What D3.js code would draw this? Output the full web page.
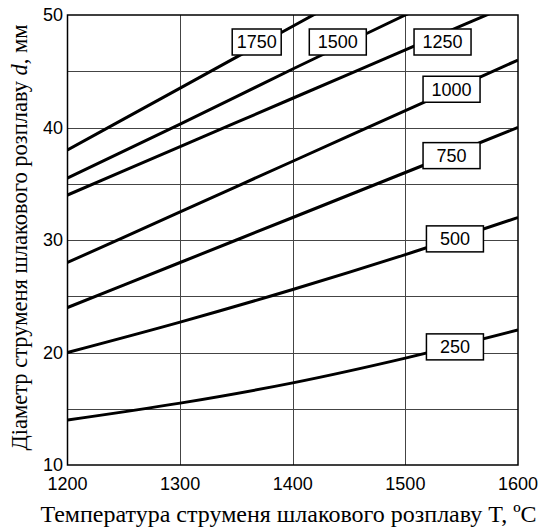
<!DOCTYPE html>
<html>
<head>
<meta charset="utf-8">
<script src="https://cdn.jsdelivr.net/npm/d3@7"></script>
<style>
  html, body { margin: 0; padding: 0; background: #fff; }
  svg { display: block; }
</style>
</head>
<body>
<svg id="chart" width="538" height="527"></svg>
<script>
// Temperatures at which each curve is sampled, °C
const temps = [1200, 1300, 1400, 1500, 1600];

// Slag jet diameter d, mm, for each flow curve (values above 50 run off the top edge)
const d250  = [14.0, 15.5, 17.3, 19.5, 22.0];
const d500  = [20.0, 22.7, 25.6, 28.7, 32.0];
const d750  = [24.0, 28.0, 32.0, 36.0, 40.0];
const d1000 = [28.0, 32.5, 37.0, 41.5, 46.0];
const d1250 = [34.0, 38.3, 42.6, 46.9, 51.2];
const d1500 = [35.5, 40.3, 45.2, 50.0, 54.8];
const d1750 = [38.0, 43.5, 49.0, 54.5, 60.0];

const curveNames = ["250", "500", "750", "1000", "1250", "1500", "1750"];
const curveValues = [d250, d500, d750, d1000, d1250, d1500, d1750];

// Where each curve's label box sits: [temperature, diameter]
const labelAt = [[1544, 20.5], [1544, 30.1], [1541, 37.5], [1541, 43.4], [1533, 47.6], [1440, 47.6], [1368, 47.6]];

const xTicks = [1200, 1300, 1400, 1500, 1600];
const yTicks = [10, 20, 30, 40, 50];
const yGrid = [15, 20, 25, 30, 35, 40, 45];

const xTitle = "Температура струменя шлакового розплаву T, ºC";

const svg = d3.select("#chart");
const plotL = 67.5, plotR = 518, plotT = 15, plotB = 465;

const x = d3.scaleLinear().domain([1200, 1600]).range([plotL, plotR]);
const y = d3.scaleLinear().domain([10, 50]).range([plotB, plotT]);

svg.append("defs").append("clipPath").attr("id", "plot")
  .append("rect").attr("x", plotL).attr("y", plotT)
  .attr("width", plotR - plotL).attr("height", plotB - plotT);

// grid
const grid = svg.append("g").attr("stroke", "#444").attr("stroke-width", 1).attr("shape-rendering", "crispEdges");
grid.selectAll("line.v").data(xTicks.slice(1, -1)).join("line")
  .attr("x1", d => Math.round(x(d)) + 0.5).attr("x2", d => Math.round(x(d)) + 0.5)
  .attr("y1", plotT).attr("y2", plotB);
grid.selectAll("line.h").data(yGrid).join("line")
  .attr("y1", d => Math.round(y(d)) + 0.5).attr("y2", d => Math.round(y(d)) + 0.5)
  .attr("x1", plotL).attr("x2", plotR);

// curves
const series = curveNames.map((name, i) => ({
  name,
  points: temps.map((t, j) => [t, curveValues[i][j]]),
  label: labelAt[i]
}));

const line = d3.line().x(d => x(d[0])).y(d => y(d[1])).curve(d3.curveMonotoneX);

svg.append("g").attr("clip-path", "url(#plot)")
  .selectAll("path").data(series).join("path")
  .attr("d", d => line(d.points))
  .attr("fill", "none").attr("stroke", "#000").attr("stroke-width", 3);

// frame
svg.append("rect").attr("x", plotL).attr("y", plotT)
  .attr("width", plotR - plotL).attr("height", plotB - plotT)
  .attr("fill", "none").attr("stroke", "#000").attr("stroke-width", 1.5);

// curve labels
const boxW = s => s.name === "1750" ? 49 : 57;
const boxH = 26;
const lab = svg.append("g").selectAll("g").data(series).join("g")
  .attr("transform", d => `translate(${x(d.label[0])},${y(d.label[1])})`);
lab.append("rect")
  .attr("x", d => -boxW(d) / 2).attr("y", -boxH / 2)
  .attr("width", boxW).attr("height", boxH)
  .attr("fill", "#fff").attr("stroke", "#000").attr("stroke-width", 1.5);
lab.append("text")
  .attr("text-anchor", "middle").attr("dy", "0.36em")
  .attr("font-family", "'Liberation Sans', Arial, sans-serif").attr("font-size", 18)
  .text(d => d.name);

// tick labels
svg.append("g").selectAll("text").data(xTicks).join("text")
  .attr("x", d => x(d)).attr("y", 490)
  .attr("text-anchor", "middle")
  .attr("font-family", "'Liberation Sans', Arial, sans-serif").attr("font-size", 18)
  .text(d => d);
svg.append("g").selectAll("text").data(yTicks).join("text")
  .attr("x", 63).attr("y", d => y(d)).attr("dy", "0.36em")
  .attr("text-anchor", "end")
  .attr("font-family", "'Liberation Sans', Arial, sans-serif").attr("font-size", 18)
  .text(d => d);

// axis titles
svg.append("text")
  .attr("x", 288.5).attr("y", 521.5)
  .attr("text-anchor", "middle")
  .attr("font-family", "'Liberation Serif', 'Times New Roman', serif").attr("font-size", 24)
  .text(xTitle);

const yt = svg.append("text")
  .attr("transform", "translate(27,237.5) rotate(-90)")
  .attr("text-anchor", "middle")
  .attr("font-family", "'Liberation Serif', 'Times New Roman', serif").attr("font-size", 22.5);
yt.append("tspan").text("Діаметр струменя шлакового розплаву ");
yt.append("tspan").attr("font-style", "italic").text("d");
yt.append("tspan").text(", мм");
</script>
</body>
</html>
